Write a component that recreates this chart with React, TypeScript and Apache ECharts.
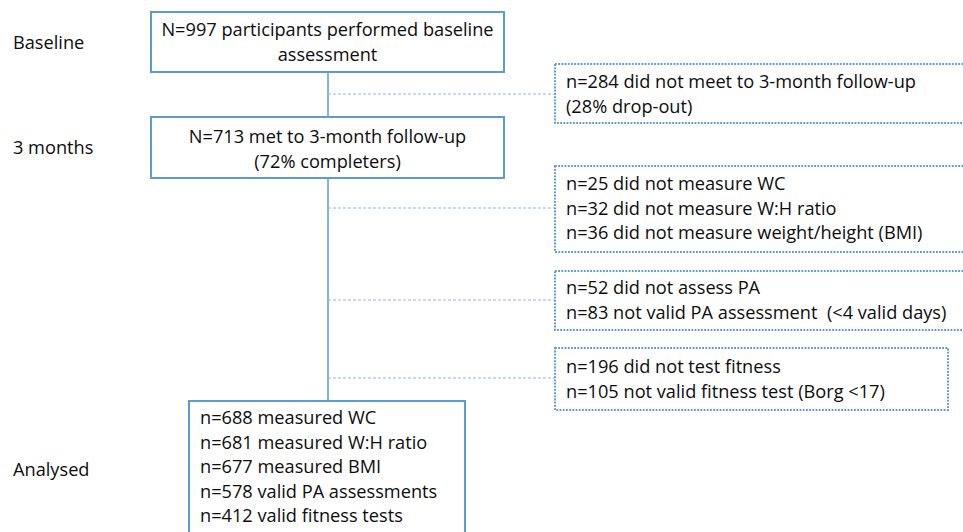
import React, { useEffect, useRef } from "react";
import * as echarts from "echarts";

// ---- Data (texts of the flow chart) ----
const stageLabels = ["Baseline", "3 months", "Analysed"];
const baselineLines = ["N=997 participants performed baseline", "assessment"];
const followUpLines = ["N=713 met to 3-month follow-up", "(72% completers)"];
const dropOutLines = ["n=284 did not meet to 3-month follow-up", "(28% drop-out)"];
const anthropometryLines = [
  "n=25 did not measure WC",
  "n=32 did not measure W:H ratio",
  "n=36 did not measure weight/height (BMI)",
];
const paLines = ["n=52 did not assess PA", "n=83 not valid PA assessment  (<4 valid days)"];
const fitnessLines = ["n=196 did not test fitness", "n=105 not valid fitness test (Borg <17)"];
const analysedLines = [
  "n=688 measured WC",
  "n=681 measured W:H ratio",
  "n=677 measured BMI",
  "n=578 valid PA assessments",
  "n=412 valid fitness tests",
];

// ---- Layout / styles ----
const FONT = "'Open Sans', 'Noto Sans', sans-serif";
const FONT_SIZE = 18.2;
const LINE_GAP = 24.6;
const TEXT_SHIFT = -1;
const BLUE = "#5B9BD5";
const DASH_BLUE = "#8CB6E3";
const TEXT_COLOR = "#0d0d0d";

const stageY = [43, 148, 470];
const mainX = 328;
const solidBoxes = [
  { x: 151, y: 12, w: 353, h: 60, lines: baselineLines, align: "center", firstY: 30 },
  { x: 151, y: 117, w: 353, h: 61, lines: followUpLines, align: "center", firstY: 137 },
  { x: 189, y: 401, w: 276, h: 150, lines: analysedLines, align: "left", firstY: 418 },
];
const dottedBoxes = [
  { x: 555, y: 64, w: 430, h: 59, lines: dropOutLines, firstY: 82, cy: 94 },
  { x: 555, y: 166, w: 430, h: 86, lines: anthropometryLines, firstY: 184, cy: 208 },
  { x: 555, y: 271, w: 430, h: 59, lines: paLines, firstY: 288, cy: 300 },
  { x: 555, y: 348, w: 393, h: 62, lines: fitnessLines, firstY: 367, cy: 378 },
];

function textEl(x: number, y: number, text: string, align: string) {
  return {
    type: "text",
    x,
    y: y + TEXT_SHIFT,
    z: 10,
    style: {
      text,
      fill: TEXT_COLOR,
      font: `${FONT_SIZE}px ${FONT}`,
      fontFamily: FONT,
      fontSize: FONT_SIZE,
      textAlign: align,
      textVerticalAlign: "middle",
    },
  };
}

export default function App() {
  const ref = useRef<HTMLDivElement>(null);
  useEffect(() => {
    document.body.style.margin = "0";
    if (!ref.current) return;
    const chart = echarts.init(ref.current, undefined, { renderer: "svg" });
    const elements: any[] = [];

    // stage labels
    stageLabels.forEach((t, i) => elements.push(textEl(13, stageY[i], t, "left")));

    // main vertical connectors
    elements.push({
      type: "line",
      shape: { x1: mainX, y1: solidBoxes[0].y + solidBoxes[0].h, x2: mainX, y2: solidBoxes[1].y },
      style: { stroke: BLUE, lineWidth: 1.5 },
      z: 1,
    });
    elements.push({
      type: "line",
      shape: { x1: mainX, y1: solidBoxes[1].y + solidBoxes[1].h, x2: mainX, y2: solidBoxes[2].y },
      style: { stroke: BLUE, lineWidth: 1.5 },
      z: 1,
    });

    // solid boxes
    solidBoxes.forEach((b) => {
      elements.push({
        type: "rect",
        shape: { x: b.x, y: b.y, width: b.w, height: b.h },
        style: { fill: "#ffffff", stroke: BLUE, lineWidth: 2 },
        z: 2,
      });
      b.lines.forEach((t, i) => {
        const x = b.align === "center" ? b.x + b.w / 2 : b.x + 11;
        elements.push(textEl(x, b.firstY + i * LINE_GAP, t, b.align));
      });
    });

    // dotted boxes with dashed connectors
    dottedBoxes.forEach((b) => {
      elements.push({
        type: "line",
        shape: { x1: mainX, y1: b.cy, x2: b.x, y2: b.cy },
        style: { stroke: DASH_BLUE, lineWidth: 1, lineDash: [3, 2] },
        z: 1,
      });
      elements.push({
        type: "rect",
        shape: { x: b.x, y: b.y, width: b.w, height: b.h },
        style: { fill: "#ffffff", stroke: BLUE, lineWidth: 2, lineDash: [1.8, 1.4] },
        z: 2,
      });
      b.lines.forEach((t, i) => {
        elements.push(textEl(b.x + 11, b.firstY + i * LINE_GAP, t, "left"));
      });
    });

    chart.setOption({
      animation: false,
      backgroundColor: "#ffffff",
      graphic: { elements },
    });
    return () => chart.dispose();
  }, []);
  return <div ref={ref} style={{ width: 963, height: 532 }} />;
}
